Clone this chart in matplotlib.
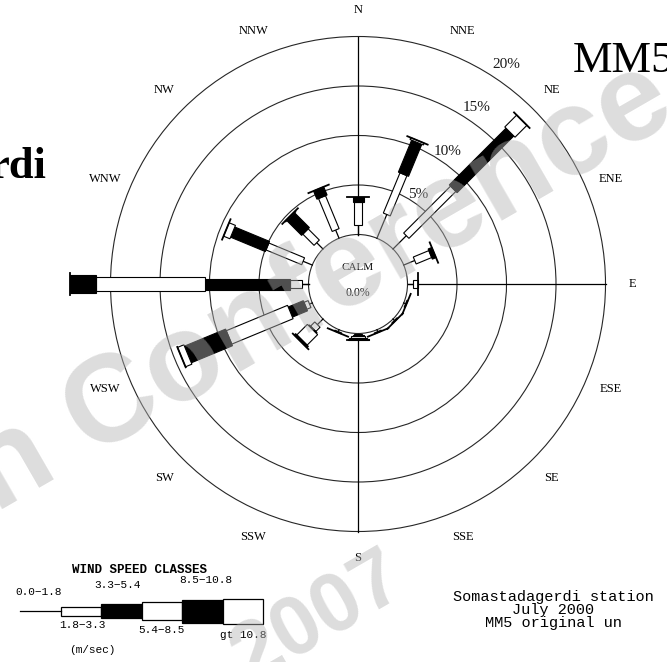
import numpy as np
import matplotlib
matplotlib.use('Agg')
import matplotlib.pyplot as plt
from matplotlib.patches import Circle, Polygon

# --- data: percent frequency per direction and speed class ---
directions = ['N', 'NNE', 'NE', 'ENE', 'E', 'ESE', 'SE', 'SSE',
              'S', 'SSW', 'SW', 'WSW', 'W', 'WNW', 'NW', 'NNW']
speed_classes = ['0.0\u22121.8', '1.8\u22123.3', '3.3\u22125.4',
                 '5.4\u22128.5', '8.5\u221210.8', 'gt 10.8']
f_00_18 = [0.95, 2.6, 1.9, 1.2, 0.6, 0.2, 0.2, 0.2, 0.1, 0.2, 0.8, 0.3, 0.7, 1.0, 0.9, 0.9]
f_18_33 = [2.35, 4.4, 6.7, 1.7, 0.5, 0.1, 0.1, 0.1, 0.1, 0.1, 0.6, 0.45, 1.2, 3.9, 1.6, 3.6]
f_33_54 = [0.5, 3.5, 8.1, 0.4, 0.0, 0.0, 0.0, 0.0, 0.1, 0.0, 0.1, 1.65, 8.6, 3.8, 2.1, 0.9]
f_54_85 = [0.0, 0.2, 1.7, 0.0, 0.0, 0.0, 0.0, 0.0, 0.2, 0.0, 1.5, 6.7, 11.0, 0.7, 0.1, 0.0]
f_85_108 = [0.0, 0.0, 0.0, 0.0, 0.0, 0.0, 0.0, 0.0, 0.1, 0.0, 0.2, 4.5, 2.6, 0.0, 0.0, 0.0]
f_gt_108 = [0.0, 0.0, 0.0, 0.0, 0.0, 0.0, 0.0, 0.0, 0.1, 0.0, 0.0, 0.7, 0.0, 0.0, 0.0, 0.0]
calm_pct = 0.0
rings = [5, 10, 15, 20]
station_lines = ['Somastadagerdi station', 'July 2000', 'MM5 original un']

# --- layout (pixels, y downward) ---
W_PX, H_PX = 667, 662
cx, cy = 358, 284
scale = 9.9          # px per percent
calm_r = 5.0         # calm circle radius in percent units
seg_w = [0, 7.5, 11, 14.5, 18, 21]  # bar widths per class (px)
seg_fill = ['none', 'white', 'black', 'white', 'black', 'white']
cap_w = 22

fig = plt.figure(figsize=(W_PX / 100, H_PX / 100), dpi=100)
ax = fig.add_axes([0, 0, 1, 1])
ax.set_xlim(0, W_PX)
ax.set_ylim(H_PX, 0)
ax.set_aspect('equal')
ax.axis('off')


def pos(r, bearing):
    t = np.radians(bearing)
    return cx + r * np.sin(t), cy - r * np.cos(t)


# circles
for pct in [0] + rings:
    ax.add_patch(Circle((cx, cy), (calm_r + pct) * scale, fill=False,
                        ec='0.15', lw=0.8, zorder=2))
# axes N-S, E-W
r_in, r_out = calm_r * scale, (calm_r + rings[-1]) * scale
for b in [0, 90, 180, 270]:
    x0, y0 = pos(r_in, b)
    x1, y1 = pos(r_out, b)
    ax.plot([x0, x1], [y0, y1], color='black', lw=0.9, zorder=2)

# bars
data = np.array([f_00_18, f_18_33, f_33_54, f_54_85, f_85_108, f_gt_108]).T
for i, name in enumerate(directions):
    b = i * 22.5
    t = np.radians(b)
    u = np.array([np.sin(t), -np.cos(t)])
    p = np.array([np.cos(t), np.sin(t)])
    c = np.array([cx, cy])
    cum = calm_r + np.concatenate([[0], np.cumsum(data[i])])
    # class 0 as a line
    a = c + u * cum[0] * scale
    e = c + u * cum[1] * scale
    ax.plot([a[0], e[0]], [a[1], e[1]], color='black', lw=0.9, zorder=4)
    for k in range(1, 6):
        if data[i, k] <= 0:
            continue
        r1, r2 = cum[k] * scale, cum[k + 1] * scale
        h = seg_w[k] / 2
        pts = [c + u * r1 + p * h, c + u * r2 + p * h,
               c + u * r2 - p * h, c + u * r1 - p * h]
        ax.add_patch(Polygon(pts, closed=True, fc=seg_fill[k], ec='black',
                             lw=0.8, zorder=4 + k * 0.01))
    # end cap
    r_end = cum[-1] * scale
    e = c + u * r_end
    ax.plot([e[0] - p[0] * cap_w / 2, e[0] + p[0] * cap_w / 2],
            [e[1] - p[1] * cap_w / 2, e[1] + p[1] * cap_w / 2],
            color='black', lw=1.3, zorder=5)

# direction labels
for i, name in enumerate(directions):
    x, y = pos(274, i * 22.5)
    ax.text(x, y, name, ha='center', va='center', fontsize=9,
            family='Liberation Serif')

# ring labels
for pct in rings:
    rr = (calm_r + pct) * scale
    x, y = pos(rr * 1.06 + 3, 34)
    ax.text(x, y, f'{pct}%', ha='center', va='center', fontsize=11,
            family='Liberation Serif', color='0.1')

ax.text(cx, 268, 'CALM', ha='center', va='center', fontsize=8,
        family='Liberation Serif')
ax.text(cx, 293, f'{calm_pct:.1f}%', ha='center', va='center', fontsize=8.5,
        family='Liberation Serif')

# legend
lx, ly, seg_len = 20, 611, 40.5
leg_h = [0, 9, 14, 18, 23, 25]
lab_dx = [-2, 2, -4, 0, 4, 0]
lab_y = [592, 625, 585, 630, 580, 635]
ax.plot([lx, lx + seg_len], [ly, ly], color='black', lw=0.9)
for k in range(1, 6):
    x0 = lx + k * seg_len
    h = leg_h[k] / 2
    ax.add_patch(Polygon([(x0, ly - h), (x0 + seg_len, ly - h),
                          (x0 + seg_len, ly + h), (x0, ly + h)],
                         closed=True, fc=seg_fill[k], ec='black', lw=0.9))
for k, lab in enumerate(speed_classes):
    x0 = lx + k * seg_len + seg_len / 2 + lab_dx[k]
    ax.text(x0, lab_y[k], lab, ha='center', va='center',
            fontsize=8, family='Liberation Mono')
ax.text(140, 570, 'WIND SPEED CLASSES', ha='center', va='center',
        fontsize=9, family='Liberation Mono', weight='bold')
ax.text(92, 650, '(m/sec)', ha='center', va='center', fontsize=8,
        family='Liberation Mono')

# station text
ax.text(553, 610, '\n'.join(station_lines), ha='center', va='center',
        multialignment='center', linespacing=0.95, fontsize=11,
        family='Liberation Mono')

# partial slide titles
ax.text(573, 72, 'MM5', ha='left', va='baseline', fontsize=32,
        family='Liberation Serif')
ax.text(47, 178, 'rdi', ha='right', va='baseline', fontsize=32,
        family='Liberation Serif', weight='bold')

# watermark
ax.text(322, 288, 'n Conference', rotation=30, rotation_mode='anchor',
        ha='center', va='center', fontsize=89, weight='bold',
        family='Liberation Sans', color='0.7', alpha=0.45, zorder=10)
ax.text(318, 618, '2007', rotation=30, rotation_mode='anchor',
        ha='center', va='center', fontsize=60, weight='bold',
        family='Liberation Sans', color='0.7', alpha=0.45, zorder=10)

fig.savefig('out.png', dpi=100)
